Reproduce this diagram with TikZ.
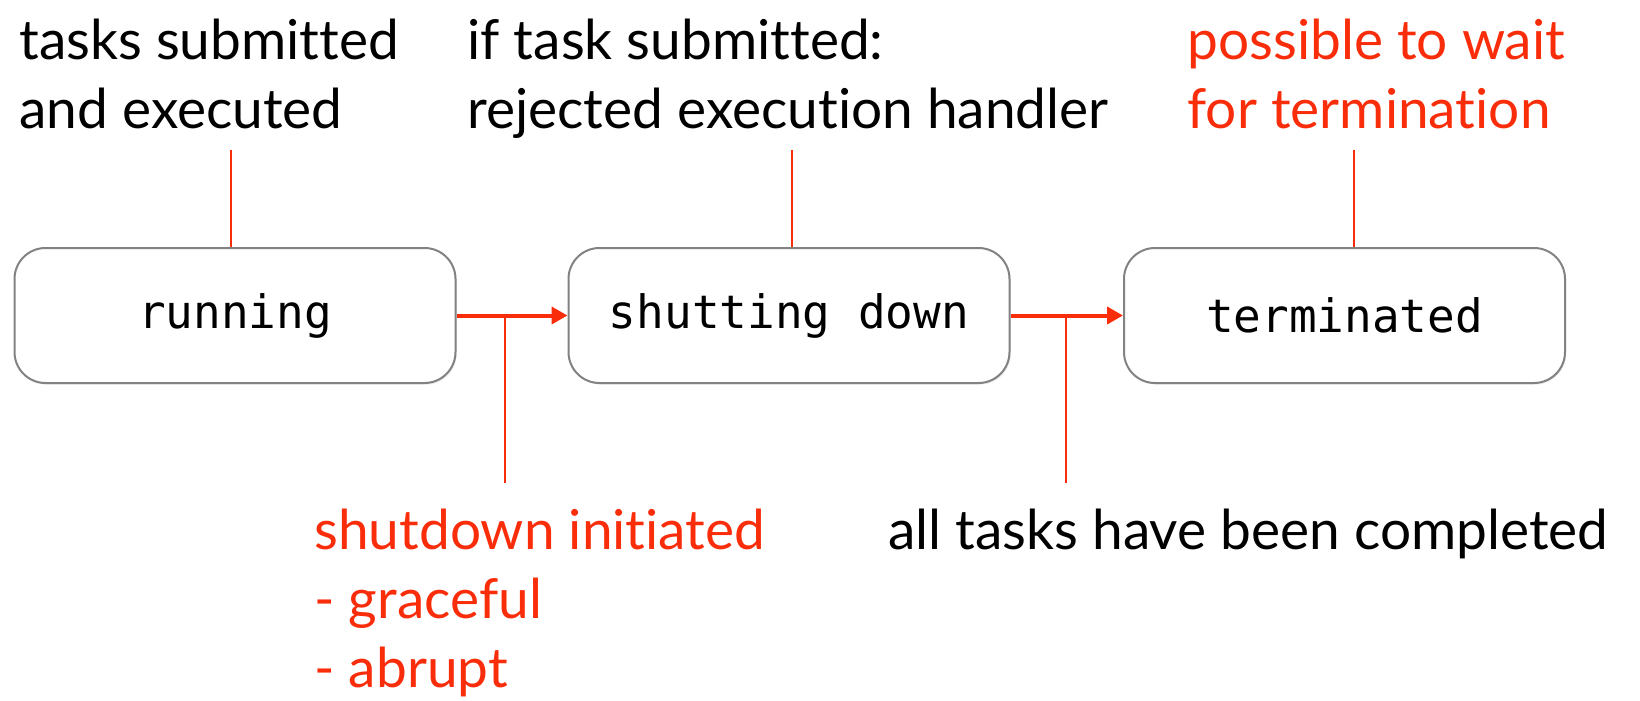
\documentclass[tikz,border=0pt]{standalone}
\usepackage{fontspec}
\setmainfont{Lato}[Ligatures={NoCommon}]
\setmonofont{DejaVu Sans Mono}
\usetikzlibrary{arrows.meta,shadows}
\definecolor{hotred}{RGB}{250,45,10}
\definecolor{boxgray}{RGB}{130,130,130}
\tikzset{
  state/.style={draw=boxgray, line width=1pt, fill=white, rounded corners=15.5pt,
    minimum width=220.5pt, minimum height=67.5pt, inner sep=0pt,
    font=\fontsize{23}{28}\ttfamily,
    drop shadow={opacity=0.18, shadow xshift=0.6pt, shadow yshift=-0.8pt}},
  note/.style={anchor=north west, inner sep=0pt, align=left,
    font=\fontsize{27.5}{34.5}\selectfont},
  trans/.style={hotred, line width=2pt, -{Triangle[length=8pt,width=8.5pt]}},
  tick/.style={hotred, line width=1pt},
}
\begin{document}
\begin{tikzpicture}[x=0.5pt, y=-0.5pt]
\useasboundingbox (0,0) rectangle (1640,701);

\node[state] (running)    at (235,315.5)  {running};
\node[state] (shutting)   at (789,315.5)  {shutting down};
\node[state] (terminated) at (1344.5,315.5) {terminated};

\node[note] (submitted) at (19,19) {tasks submitted\\and executed};
\node[note] (rejected)  at (467,19) {if task submitted:\\rejected execution handler};
\node[note, text=hotred] (wait) at (1187,19) {possible to wait\\for termination};
\node[note, text=hotred] (initiated) at (314,509) {shutdown initiated\\- graceful\\- abrupt};
\node[note] (completed) at (888,509) {all tasks have been completed};

\draw[trans] (running) -- (shutting);
\draw[trans] (shutting) -- (terminated);

\coordinate (b1) at (505,315.5);
\coordinate (b2) at (1066,315.5);
\draw[hotred, line width=1.2pt] (b1) -- (505,483);
\draw[hotred, line width=1.2pt] (b2) -- (1066,483);

\draw[tick] (231,150) -- (running.north -| 231,0);
\draw[tick] (792,150) -- (shutting.north -| 792,0);
\draw[tick] (1354,150) -- (terminated.north -| 1354,0);

\end{tikzpicture}
\end{document}
